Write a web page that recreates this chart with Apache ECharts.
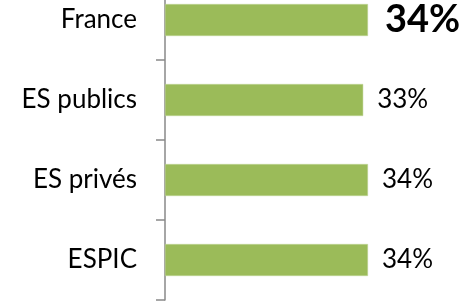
<!DOCTYPE html>
<html><head><meta charset="utf-8">
<script src="https://cdn.jsdelivr.net/npm/echarts@6/dist/echarts.min.js"></script>
<style>html,body{margin:0;padding:0;background:#fff}#c{width:466px;height:301px}</style>
</head><body><div id="c"></div>
<script>
var categories = ['France', 'ES publics', 'ES privés', 'ESPIC'];
var values = [34, 33.2, 34, 34];
var labels = ['34%', '33%', '34%', '34%'];

var chart = echarts.init(document.getElementById('c'), null, {renderer: 'canvas'});
chart.setOption({
  animation: false,
  grid: {left: 165, right: 2.5, top: -20, bottom: 1, outerBoundsMode: 'none', containLabel: false},
  xAxis: {type: 'value', min: 0, max: 50, show: false},
  yAxis: {
    type: 'category', data: categories, inverse: true,
    axisLine: {show: true, lineStyle: {color: '#898989', width: 1.5}},
    axisTick: {show: true, length: 9, lineStyle: {color: '#898989', width: 1.5}},
    axisLabel: {margin: 28, color: '#000', fontFamily: 'Lato', fontSize: 26}
  },
  series: [{
    type: 'bar', barWidth: '40%',
    data: values.map(function (v, i) {
      return {value: v, label: i === 0 ? {fontWeight: 'bold', fontSize: 38, distance: 17} : {}};
    }),
    itemStyle: {color: '#9BBB59', borderColor: '#c3d69b', borderWidth: 0.5},
    label: {
      show: true, position: 'right', distance: 14, color: '#000',
      fontFamily: 'Lato', fontSize: 26,
      formatter: function (p) { return labels[p.dataIndex]; }
    }
  }]
});
</script></body></html>
